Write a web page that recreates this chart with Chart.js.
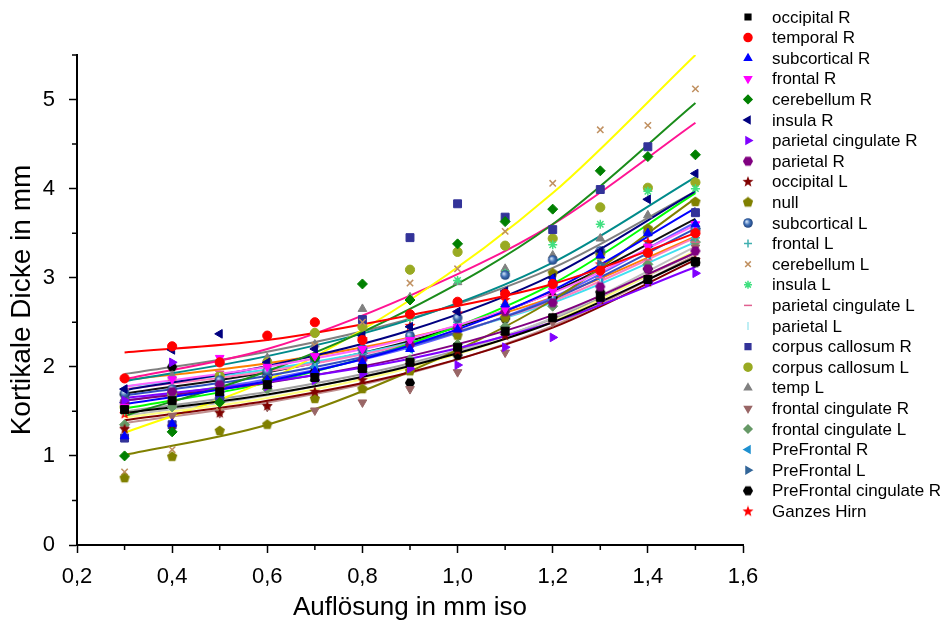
<!DOCTYPE html>
<html>
<head>
<meta charset="utf-8">
<script src="https://cdn.jsdelivr.net/npm/chart.js@4.4.1/dist/chart.umd.min.js"></script>
<style>
  html, body { margin: 0; padding: 0; background: #fff; }
  #wrap { width: 940px; height: 626px; }
</style>
</head>
<body>
<div id="wrap"><canvas id="chart" width="940" height="626"></canvas></div>
<script>
// x positions of the measurements (mm iso) and of the sampled fit curves
const X_VALUES = [0.3, 0.4, 0.5, 0.6, 0.7, 0.8, 0.9, 1.0, 1.1, 1.2, 1.3, 1.4, 1.5];
const FIT_X = [0.3, 0.6, 0.9, 1.2, 1.5];
const X_TICKS = [0.2, 0.4, 0.6, 0.8, 1.0, 1.2, 1.4, 1.6];
const X_MINOR = [0.3, 0.5, 0.7, 0.9, 1.1, 1.3, 1.5];
const Y_MINOR = [0.5, 1.5, 2.5, 3.5, 4.5, 5.5];

const SERIES_NAMES = [
  "occipital R", "temporal R", "subcortical R", "frontal R", "cerebellum R",
  "insula R", "parietal cingulate R", "parietal R", "occipital L", "null",
  "subcortical L", "frontal L", "cerebellum L", "insula L", "parietal cingulate L",
  "parietal L", "corpus callosum R", "corpus callosum L", "temp L", "frontal cingulate R",
  "frontal cingulate L", "PreFrontal R", "PreFrontal L", "PreFrontal cingulate R", "Ganzes Hirn",
];

// measured thickness (mm), one value per X_VALUES entry
const occipitalR     = [1.52, 1.62, 1.72, 1.80, 1.88, 1.98, 2.05, 2.22, 2.40, 2.55, 2.78, 2.98, 3.18];
const temporalR      = [1.87, 2.23, 2.05, 2.35, 2.50, 2.30, 2.59, 2.73, 2.82, 2.93, 3.08, 3.28, 3.50];
const subcorticalR   = [1.22, 1.36, 1.70, 1.85, 1.95, 2.05, 2.20, 2.42, 2.70, 2.98, 3.25, 3.50, 3.60];
const frontalR       = [1.55, 1.86, 2.10, 2.00, 2.12, 2.20, 2.30, 2.45, 2.65, 2.85, 3.05, 3.35, 3.60];
const cerebellumR    = [1.00, 1.27, 1.60, 1.85, 2.10, 2.93, 2.75, 3.38, 3.63, 3.77, 4.20, 4.36, 4.38];
const insulaR        = [1.75, 2.19, 2.37, 2.05, 2.20, 2.35, 2.45, 2.62, 2.85, 3.00, 3.30, 3.88, 4.17];
const parCingR       = [1.62, 2.05, 1.72, 1.78, 1.85, 1.92, 1.98, 2.02, 2.22, 2.33, 2.75, 2.95, 3.05];
const parietalR      = [1.60, 1.72, 1.80, 1.85, 1.92, 2.08, 2.25, 2.43, 2.62, 2.72, 2.90, 3.10, 3.30];
const occipitalL     = [1.30, 1.33, 1.48, 1.56, 1.72, 1.85, 2.02, 2.18, 2.35, 2.55, 2.75, 2.95, 3.20];
const nullSeries     = [0.75, 0.99, 1.28, 1.35, 1.64, 1.75, 1.95, 2.35, 2.55, 3.05, 3.25, 3.55, 3.85];
const subcorticalL   = [1.70, 1.75, 1.85, 1.95, 2.10, 2.20, 2.35, 2.55, 3.03, 3.20, 3.30, 3.51, 3.55];
const frontalL       = [1.55, 1.70, 1.80, 1.90, 2.05, 2.15, 2.30, 2.50, 2.70, 2.90, 3.10, 3.30, 3.45];
const cerebellumL    = [0.82, 1.07, 1.50, 1.90, 2.24, 2.50, 2.94, 3.10, 3.52, 4.06, 4.66, 4.71, 5.12];
const insulaL        = [1.50, 1.65, 1.80, 1.95, 2.10, 2.30, 2.55, 2.97, 3.05, 3.37, 3.60, 3.97, 4.00];
const parCingL       = [1.75, 1.85, 1.95, 2.00, 2.10, 2.20, 2.30, 2.45, 2.62, 2.80, 3.00, 3.20, 3.40];
const parietalL      = [1.72, 1.80, 1.88, 1.95, 2.05, 2.15, 2.28, 2.42, 2.60, 2.78, 3.00, 3.25, 3.50];
const corpusCallR    = [1.20, 1.35, 1.65, 1.90, 2.10, 2.53, 3.45, 3.83, 3.68, 3.54, 3.99, 4.47, 3.73];
const corpusCallL    = [1.55, 1.70, 1.90, 2.05, 2.38, 2.45, 3.09, 3.29, 3.36, 3.44, 3.79, 4.01, 4.07];
const tempL          = [1.65, 1.90, 2.05, 2.10, 2.25, 2.65, 2.78, 2.95, 3.10, 3.25, 3.44, 3.70, 3.73];
const frontCingR     = [1.30, 1.45, 1.48, 1.55, 1.51, 1.60, 1.75, 1.94, 2.16, 2.50, 2.75, 3.00, 3.34];
const frontCingL     = [1.35, 1.55, 1.65, 1.75, 1.85, 1.95, 2.08, 2.25, 2.45, 2.68, 3.28, 3.15, 3.40];
const preFrontalR    = [1.60, 1.70, 1.80, 1.90, 2.00, 2.10, 2.20, 2.35, 2.55, 2.75, 3.00, 3.25, 3.42];
const preFrontalL    = [1.65, 1.72, 1.82, 1.95, 2.05, 2.15, 2.30, 2.45, 2.65, 2.90, 3.15, 3.35, 3.55];
const preFrontCingR  = [1.69, 2.00, 1.85, 1.90, 1.95, 1.98, 1.82, 2.13, 2.54, 2.78, 2.84, 3.10, 3.17];
const ganzesHirn     = [1.47, 1.60, 1.75, 1.90, 2.10, 2.31, 2.46, 2.60, 2.75, 2.90, 3.15, 3.40, 3.51];

// exponential fit curves, one value per FIT_X entry
const occipitalRFit    = [1.48, 1.69, 2.01, 2.50, 3.23];
const temporalRFit     = [2.16, 2.30, 2.58, 2.93, 3.50];
const subcorticalRFit  = [1.58, 1.84, 2.24, 2.86, 3.78];
const frontalRFit      = [1.78, 2.00, 2.32, 2.83, 3.59];
const cerebellumRFit   = [1.45, 1.95, 2.65, 3.60, 4.96];
const insulaRFit       = [1.74, 2.01, 2.41, 3.03, 3.97];
const parCingRFit      = [1.65, 1.83, 2.09, 2.50, 3.12];
const parietalRFit     = [1.62, 1.82, 2.12, 2.58, 3.28];
const occipitalLFit    = [1.40, 1.62, 1.94, 2.44, 3.20];
const nullFit          = [1.01, 1.35, 1.95, 2.75, 3.89];
const subcorticalLFit  = [1.68, 1.90, 2.24, 2.76, 3.55];
const frontalLFit      = [1.43, 1.65, 1.99, 2.51, 3.30];
const cerebellumLFit   = [1.26, 1.85, 2.75, 3.95, 5.50];
const insulaLFit       = [1.53, 1.82, 2.26, 2.93, 3.95];
const parCingLFit      = [1.75, 1.95, 2.26, 2.74, 3.45];
const parietalLFit     = [1.45, 1.68, 2.02, 2.55, 3.35];
const corpusCallRFit   = [1.86, 2.20, 2.80, 3.60, 4.74];
const corpusCallLFit   = [1.84, 2.12, 2.53, 3.17, 4.13];
const tempLFit         = [1.92, 2.17, 2.54, 3.11, 3.97];
const frontCingRFit    = [1.37, 1.60, 1.93, 2.46, 3.25];
const frontCingLFit    = [1.50, 1.72, 2.04, 2.54, 3.28];
const preFrontalRFit   = [1.78, 1.97, 2.27, 2.72, 3.40];
const preFrontalLFit   = [1.62, 1.86, 2.22, 2.78, 3.62];
const preFrontCingRFit = [1.70, 1.94, 2.29, 2.84, 3.66];
const ganzesHirnFit    = [1.85, 2.04, 2.33, 2.78, 3.46];

const SERIES_VALUES = [
  occipitalR, temporalR, subcorticalR, frontalR, cerebellumR, insulaR, parCingR, parietalR,
  occipitalL, nullSeries, subcorticalL, frontalL, cerebellumL, insulaL, parCingL, parietalL,
  corpusCallR, corpusCallL, tempL, frontCingR, frontCingL, preFrontalR, preFrontalL,
  preFrontCingR, ganzesHirn,
];
const FIT_VALUES = [
  occipitalRFit, temporalRFit, subcorticalRFit, frontalRFit, cerebellumRFit, insulaRFit,
  parCingRFit, parietalRFit, occipitalLFit, nullFit, subcorticalLFit, frontalLFit,
  cerebellumLFit, insulaLFit, parCingLFit, parietalLFit, corpusCallRFit, corpusCallLFit,
  tempLFit, frontCingRFit, frontCingLFit, preFrontalRFit, preFrontalLFit,
  preFrontCingRFit, ganzesHirnFit,
];

// styles
const POINT_COLORS = [
  "#000000", "#ff0000", "#0000ff", "#ff00ff", "#008000", "#000080", "#8000ff", "#800080",
  "#800000", "#808000", "#3f6fb5", "#40b0b0", "#c09060", "#40e080", "#e06090", "#a8e8f0",
  "#333399", "#99aa22", "#808080", "#996666", "#669966", "#1e90d0", "#336699", "#000000",
  "#ff0000",
];
const LINE_COLORS = [
  "#000000", "#ff0000", "#0000ff", "#ff66ff", "#1a8c1a", "#000080", "#8000ff", "#800080",
  "#800000", "#808000", "#3050c0", "#ffff80", "#ffff00", "#00ff00", "#ff80c0", "#c0c0c0",
  "#ff1493", "#008b8b", "#808080", "#c09090", "#a0a0a0", "#40e0f0", "#6060ff", "#101010",
  "#ff8000",
];
const POINT_SHAPES = [
  "rect", "circle", "triangle", "triangle", "rectRot", "triangle", "triangle", "hexagon",
  "star5", "pentagon", "sphere", "cross", "crossRot", "star", "line", "line",
  "rect", "circle", "triangle", "triangle", "rectRot", "triangle", "triangle", "hexagon",
  "star5",
];
const POINT_ROTATION = [
  0, 0, 0, 180, 0, -90, 90, 0, 0, 0, 0, 0, 0, 0, 0, 90,
  0, 0, 0, 180, 0, -90, 90, 0, 0,
];
const POINT_RADIUS = { rect: 5.6, rectRot: 5, triangle: 5, circle: 4.6 };

const $ = (id) => document.getElementById(id);

function polygon(ctx, n, r, inner, start) {
  ctx.beginPath();
  const steps = inner ? n * 2 : n;
  for (let i = 0; i < steps; i++) {
    const rr = inner && i % 2 ? inner : r;
    const a = start + (i * Math.PI * 2) / steps;
    const px = 6 + rr * Math.cos(a), py = 6 + rr * Math.sin(a);
    i ? ctx.lineTo(px, py) : ctx.moveTo(px, py);
  }
  ctx.closePath();
  ctx.fill();
}

// canvas point styles for shapes Chart.js does not have
function makeMarker(shape, color) {
  const c = document.createElement("canvas");
  c.width = 12; c.height = 12;
  const ctx = c.getContext("2d");
  ctx.fillStyle = color;
  if (shape === "pentagon") polygon(ctx, 5, 5.4, 0, -Math.PI / 2);
  else if (shape === "hexagon") polygon(ctx, 6, 5.1, 0, 0);
  else if (shape === "star5") polygon(ctx, 5, 5.8, 2.4, -Math.PI / 2);
  else if (shape === "sphere") {
    const g = ctx.createRadialGradient(4.5, 4.5, 0.5, 6, 6, 5);
    g.addColorStop(0, "#c8dcf4");
    g.addColorStop(0.5, color);
    g.addColorStop(1, "#1c3f78");
    ctx.fillStyle = g;
    ctx.beginPath(); ctx.arc(6, 6, 4.8, 0, Math.PI * 2); ctx.fill();
  }
  return c;
}

function pointStyleFor(i) {
  const s = POINT_SHAPES[i];
  if (["pentagon", "hexagon", "star5", "sphere"].includes(s)) return makeMarker(s, POINT_COLORS[i]);
  return s;
}
const STYLES = SERIES_NAMES.map((_, i) => pointStyleFor(i));

const datasets = [];
SERIES_NAMES.forEach((name, i) => {
  datasets.push({
    label: name,
    data: X_VALUES.map((x, k) => ({ x, y: SERIES_VALUES[i][k] })),
    pointStyle: STYLES[i],
    rotation: POINT_ROTATION[i],
    pointRadius: POINT_RADIUS[POINT_SHAPES[i]] || 4.5,
    borderWidth: ["cross", "crossRot", "star", "line"].includes(POINT_SHAPES[i]) ? 1.5 : 1,
    backgroundColor: POINT_COLORS[i],
    borderColor: POINT_COLORS[i],
    order: 1,
  });
});
SERIES_NAMES.forEach((name, i) => {
  datasets.push({
    label: name + " fit",
    data: FIT_X.map((x, k) => ({ x, y: FIT_VALUES[i][k] })),
    showLine: true,
    pointRadius: 0,
    borderWidth: 2,
    borderColor: LINE_COLORS[i],
    backgroundColor: LINE_COLORS[i],
    cubicInterpolationMode: "monotone",
    order: 2,
  });
});

const minorTicks = {
  id: "minorTicks",
  afterDraw(chart) {
    const { ctx, scales: { x, y } } = chart;
    ctx.save();
    ctx.strokeStyle = "#000";
    ctx.lineWidth = 1.5;
    ctx.beginPath();
    X_MINOR.forEach((v) => {
      const px = x.getPixelForValue(v);
      ctx.moveTo(px, y.bottom); ctx.lineTo(px, y.bottom + 5);
    });
    Y_MINOR.forEach((v) => {
      const py = y.getPixelForValue(v);
      ctx.moveTo(x.left, py); ctx.lineTo(x.left - 5, py);
    });
    ctx.stroke();
    ctx.restore();
  },
};

const sideLegend = {
  id: "sideLegend",
  afterDraw(chart) {
    const ctx = chart.ctx;
    ctx.save();
    ctx.font = "17px 'Liberation Sans', Arial, sans-serif";
    ctx.textBaseline = "middle";
    SERIES_NAMES.forEach((name, i) => {
      const yy = 17 + i * 20.6;
      ctx.fillStyle = POINT_COLORS[i];
      ctx.strokeStyle = POINT_COLORS[i];
      ctx.lineWidth = 1.5;
      Chart.helpers.drawPoint(ctx, {
        pointStyle: STYLES[i], rotation: POINT_ROTATION[i], radius: 4, borderWidth: 1,
      }, 748, yy);
      ctx.fillStyle = "#000";
      ctx.fillText(name, 772, yy + 1);
    });
    ctx.restore();
  },
};

const comma = (v) => Number(v).toFixed(1).replace(".", ",");
const FONT = "'Liberation Sans', Arial, sans-serif";

new Chart($("chart"), {
  type: "scatter",
  data: { datasets },
  options: {
    responsive: false,
    animation: false,
    devicePixelRatio: 1,
    layout: { padding: { top: 55, right: 197, left: 0, bottom: 0 } },
    plugins: { legend: { display: false }, tooltip: { enabled: false } },
    scales: {
      x: {
        type: "linear",
        min: 0.2,
        max: 1.6,
        afterFit: (s) => { s.height = 81; },
        afterBuildTicks: (s) => { s.ticks = X_TICKS.map((v) => ({ value: v })); },
        ticks: {
          callback: comma,
          color: "#000",
          padding: 11,
          maxRotation: 0,
          font: { family: FONT, size: 22 },
        },
        grid: { drawOnChartArea: false, drawTicks: true, tickLength: 8, tickColor: "#000", tickWidth: 1.5 },
        border: { display: true, color: "#000", width: 2 },
        title: {
          display: true,
          text: "Auflösung in mm iso",
          color: "#000",
          padding: { top: 0, bottom: 3 },
          font: { family: FONT, size: 26 },
        },
      },
      y: {
        type: "linear",
        min: 0,
        max: 5.5,
        afterFit: (s) => { s.width = 77; },
        ticks: {
          stepSize: 1,
          includeBounds: false,
          color: "#000",
          padding: 14,
          font: { family: FONT, size: 22 },
        },
        grid: { drawOnChartArea: false, drawTicks: true, tickLength: 8, tickColor: "#000", tickWidth: 1.5 },
        border: { display: true, color: "#000", width: 2 },
        title: {
          display: true,
          text: "Kortikale Dicke in mm",
          color: "#000",
          padding: { top: 5, bottom: 0 },
          font: { family: FONT, size: 28 },
        },
      },
    },
  },
  plugins: [minorTicks, sideLegend],
});
</script>
</body>
</html>
